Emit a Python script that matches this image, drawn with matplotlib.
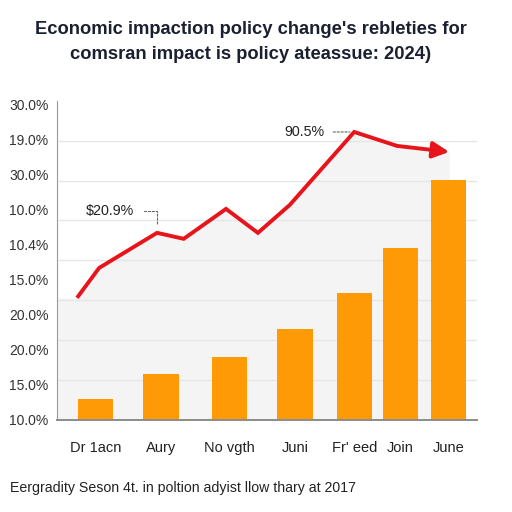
import numpy as np
import matplotlib
matplotlib.use("Agg")
from matplotlib import pyplot as plt

plt.rcParams['font.family'] = ['Liberation Sans', 'DejaVu Sans']

TITLE = "Economic impaction policy change's rebleties for\ncomsran impact is policy ateassue: 2024)"
FOOTER = "Eergradity Seson 4t. in poltion adyist llow thary at 2017"

categories = ["Dr 1acn", "Aury", "No vgth", "Juni", "Fr' eed", "Join", "June"]
bar_x = [0, 1.0, 2.05, 3.06, 3.98, 4.68, 5.42]
bar_vals = [0.53, 1.15, 1.58, 2.28, 3.18, 4.31, 6.02]

line_x = [-0.29, 0.05, 0.94, 1.35, 2.0, 2.49, 2.98, 3.97, 4.63, 5.43]
line_y = [3.06, 3.81, 4.69, 4.54, 5.29, 4.69, 5.39, 7.22, 6.87, 6.72]

ytick_labels = ["10.0%", "15.0%", "20.0%", "20.0%", "15.0%",
                "10.4%", "10.0%", "30.0%", "19.0%", "30.0%"]

RED = '#e8141b'
ORANGE = '#fd9a06'


def main():
    fig = plt.figure(figsize=(5.12, 5.12), dpi=100)
    ax = fig.add_axes([0.111, 0.180, 0.821, 0.623])
    ax.set_xlim(-0.6, 5.86)
    ax.set_ylim(0, 8)

    # light grey area under the trend line
    fx = np.r_[ax.get_xlim()[0], line_x]
    fy = np.r_[line_y[0], line_y]
    ax.fill_between(fx, fy, 0, color='#f4f4f4', zorder=0, lw=0)

    for g in range(1, 8):
        ax.axhline(g, color='#e6e6e6', lw=1, zorder=0.5)

    ax.bar(bar_x, bar_vals, width=0.54, color=ORANGE, zorder=2)

    ax.plot(line_x[:-1], line_y[:-1], color=RED, lw=2.8, zorder=3,
            solid_joinstyle='miter', solid_capstyle='butt')
    ax.annotate('', xy=(line_x[-1], line_y[-1]), xytext=(line_x[-2], line_y[-2]),
                arrowprops=dict(arrowstyle='-|>,head_length=0.7,head_width=0.35',
                                color=RED, lw=2.8, shrinkA=0, shrinkB=0,
                                mutation_scale=14), zorder=3)

    lead = dict(arrowstyle='-', linestyle=(0, (2, 1.5)), lw=0.8, color='#666666')
    ax.annotate('$20.9%', xy=(line_x[2], line_y[2]),
                xytext=(line_x[2] - 0.35, line_y[2] + 0.55),
                ha='right', va='center', fontsize=10.3, color='#222222',
                arrowprops=dict(lead, shrinkA=5, shrinkB=6,
                                connectionstyle='angle,angleA=0,angleB=90,rad=0'),
                zorder=4)
    ax.annotate('90.5%', xy=(line_x[7], line_y[7]),
                xytext=(line_x[7] - 0.45, line_y[7]),
                ha='right', va='center', fontsize=10.3, color='#222222',
                arrowprops=dict(lead, shrinkA=4, shrinkB=3), zorder=4)

    ax.set_yticks(np.linspace(0, 7.9, len(ytick_labels)))
    ax.set_yticklabels(ytick_labels, fontsize=10, color='#333333')
    ax.set_xticks(bar_x)
    ax.set_xticklabels(categories, fontsize=10.5, color='#222222')
    ax.tick_params(length=0)
    ax.tick_params(axis='y', pad=6)
    ax.tick_params(axis='x', pad=15)

    for s in ('top', 'right'):
        ax.spines[s].set_visible(False)
    ax.spines['left'].set_color('#999999')
    ax.spines['bottom'].set_color('#8c8c8c')
    ax.spines['bottom'].set_linewidth(1.4)

    fig.text(0.49, 0.918, TITLE, ha='center', va='center', fontsize=13.2,
             fontweight='bold', color='#1b2030', linespacing=1.62)
    fig.text(0.02, 0.047, FOOTER, ha='left', va='center', fontsize=10.2,
             color='#222222')

    fig.savefig('out.png', dpi=100, facecolor='white')


if __name__ == '__main__':
    main()
